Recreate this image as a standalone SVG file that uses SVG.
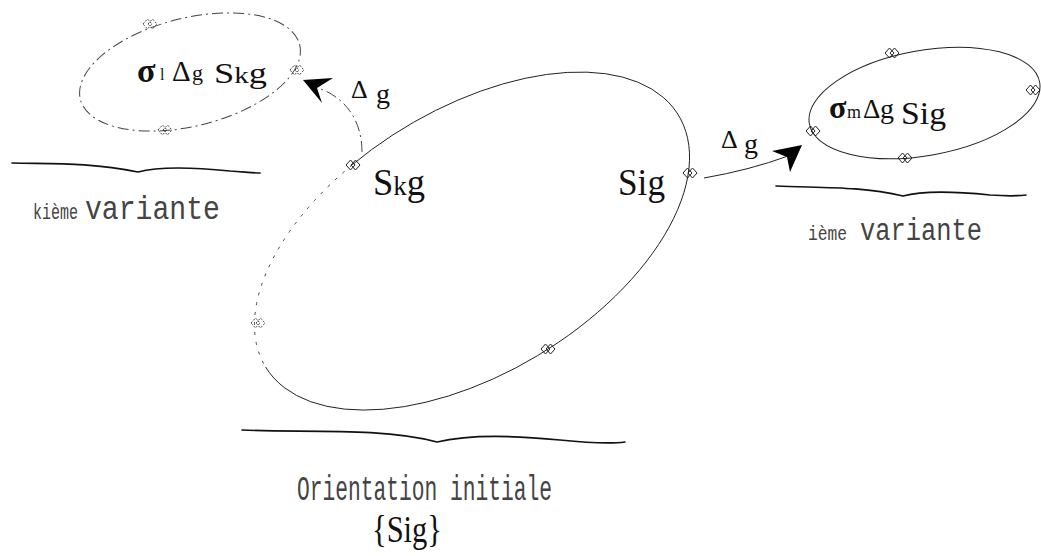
<svg xmlns="http://www.w3.org/2000/svg" width="1041" height="556" viewBox="0 0 1041 556">
<style>
.ln{fill:none;stroke:#222;stroke-width:1}
.dash{fill:none;stroke:#444;stroke-width:1;stroke-dasharray:11 4 2 4}
.dot{fill:none;stroke:#444;stroke-width:1;stroke-dasharray:3 7}
.wave{fill:none;stroke:#111;stroke-width:1.7;stroke-linecap:round}
.mth{font-family:"Liberation Serif","Times New Roman",serif;fill:#111}
.mono{font-family:"Liberation Mono","Courier New",monospace;fill:#444}
.head{fill:#000;stroke:none}
</style>
<defs>
<g id="mk" fill="none" stroke="#222" stroke-width="1">
<path d="M-7,0 L-2.5,-5 L2,0 L-2.5,5 Z M-2,0 L2.5,-5 L7,0 L2.5,5 Z"/>
</g>
<g id="mkd" fill="none" stroke="#444" stroke-width="1" stroke-dasharray="2 1.5">
<path d="M-7,0 L-2.5,-5 L2,0 L-2.5,5 Z M-2,0 L2.5,-5 L7,0 L2.5,5 Z"/>
</g>
</defs>
<rect width="1041" height="556" fill="#fff"/>

<g id="initial">
<path class="ln" d="M265.6,367 A241.8,132 -31.4 1 0 352.2,164.8"/>
<path class="dot" d="M352.2,164.8 A241.8,132 -31.4 0 0 265.6,367"/>
<use href="#mk" x="353" y="165"/>
<use href="#mk" x="690" y="173"/>
<use href="#mk" x="548" y="349"/>
<use href="#mkd" x="258" y="323"/>
<text class="mth" x="373" y="195" font-size="38" textLength="52" lengthAdjust="spacingAndGlyphs">S<tspan font-size="28">k</tspan>g</text>
<text class="mth" x="618" y="195" font-size="38" textLength="47" lengthAdjust="spacingAndGlyphs">Sig</text>
<path class="wave" d="M242,430 C300,433 380,427 437,442 C470,434 520,436 560,440 C590,443 610,444 625,442"/>
<text class="mono" transform="translate(297,500) scale(1,1.7)" font-size="21" textLength="255" lengthAdjust="spacingAndGlyphs">Orientation initiale</text>
<text class="mth" x="372" y="542" font-size="38" textLength="70" lengthAdjust="spacingAndGlyphs">{Sig}</text>
</g>

<g id="kvariant">
<ellipse class="dash" cx="190" cy="72" rx="113" ry="54" transform="rotate(-14 190 72)"/>
<use href="#mkd" x="150" y="24"/>
<use href="#mkd" x="297" y="70"/>
<use href="#mkd" x="165" y="130"/>
<text class="mth" x="137" y="82" font-size="34" font-weight="bold">σ</text>
<text class="mth" x="160" y="80" font-size="16">l</text>
<text class="mth" x="172" y="81" font-size="29">Δ</text>
<text class="mth" x="192" y="80" font-size="22">g</text>
<text class="mth" x="214" y="83" font-size="30" textLength="53" lengthAdjust="spacingAndGlyphs">S<tspan font-size="24">k</tspan>g</text>
<path class="wave" d="M12,163 C50,164 90,162 138,172 C160,166 200,168 230,171 C245,172 255,173 260,173"/>
<text class="mono" transform="translate(33,219) scale(1,1.2)" font-size="18" textLength="45" lengthAdjust="spacingAndGlyphs">kième</text>
<text class="mono" transform="translate(85,219) scale(1,1.25)" font-size="26" textLength="135" lengthAdjust="spacingAndGlyphs">variante</text>
</g>

<g id="ivariant">
<ellipse class="ln" cx="924.5" cy="103" rx="117" ry="52.5" transform="rotate(-10.2 924.5 103)"/>
<use href="#mk" x="892" y="53"/>
<use href="#mk" x="1033" y="90"/>
<use href="#mk" x="905" y="158"/>
<use href="#mk" x="813" y="131"/>
<text class="mth" x="829" y="118" font-size="32" font-weight="bold">σ</text>
<text class="mth" x="847" y="118" font-size="18">m</text>
<text class="mth" x="863" y="118" font-size="27">Δ</text>
<text class="mth" x="880" y="118" font-size="28">g</text>
<text class="mth" x="901" y="124" font-size="32" textLength="45" lengthAdjust="spacingAndGlyphs">Sig</text>
<path class="wave" d="M776,186 C820,188 860,186 903,196 C925,190 960,192 990,195 C1005,196 1018,196 1026,195"/>
<text class="mono" transform="translate(808,240) scale(1,1.2)" font-size="17" textLength="39" lengthAdjust="spacingAndGlyphs">ième</text>
<text class="mono" transform="translate(860,240) scale(1,1.25)" font-size="25" textLength="122" lengthAdjust="spacingAndGlyphs">variante</text>
</g>

<g id="connectors">
<path class="dash" d="M362,152 C362,120 345,97 318,88"/>
<polygon class="head" points="303,80 333,78 317,88 322,103"/>
<text class="mth" x="351" y="98" font-size="26">Δ</text>
<text class="mth" x="376" y="103" font-size="28">g</text>
<path class="ln" d="M704,178 Q750,170 788,156"/>
<polygon class="head" points="802,145 772,151 787,157 790,172"/>
<text class="mth" x="721" y="148" font-size="26">Δ</text>
<text class="mth" x="744" y="153" font-size="28">g</text>
</g>
</svg>
